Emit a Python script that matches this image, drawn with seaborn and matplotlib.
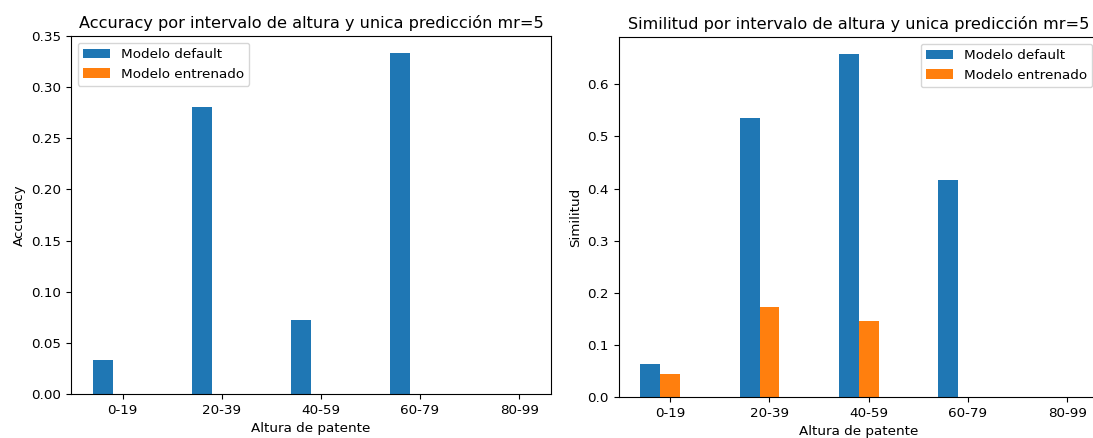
import numpy as np
import pandas as pd
import matplotlib
matplotlib.use("Agg")
import matplotlib.pyplot as plt
import seaborn as sns

intervalos = ['0-19', '20-39', '40-59', '60-79', '80-99']
modelos = ['Modelo default', 'Modelo entrenado']

accuracy_default = [0.033, 0.281, 0.072, 0.333, 0.0]
accuracy_entrenado = [0.0, 0.0, 0.0, 0.0, 0.0]

similitud_default = [0.063, 0.535, 0.658, 0.417, 0.0]
similitud_entrenado = [0.043, 0.172, 0.146, 0.0, 0.0]

colores = ['#1f77b4', '#ff7f0e']

# la imagen original esta un poco reducida
plt.rcParams['font.size'] = 9.7
plt.rcParams['axes.titlesize'] = 11.6


def armar_df(default, entrenado, nombre):
    df = pd.DataFrame({
        'Altura': intervalos * 2,
        'Modelo': [modelos[0]] * len(intervalos) + [modelos[1]] * len(intervalos),
        nombre: default + entrenado,
    })
    return df


def graficar(ax, df, nombre, titulo, loc):
    sns.barplot(data=df, x='Altura', y=nombre, hue='Modelo', hue_order=modelos,
                palette=colores, width=0.4, gap=0, saturation=1, ax=ax)
    # los grupos estan corridos respecto al tick como en el original
    ax.set_xticks(np.arange(len(intervalos)) + 0.1)
    ax.set_xticklabels(intervalos)
    ax.set_xlim(-0.42, len(intervalos) - 1 + 0.42)
    ax.set_ylim(0, max(df[nombre]) * 1.05)
    ax.set_title(titulo)
    ax.set_xlabel('Altura de patente')
    ax.set_ylabel(nombre)
    handles, labels = ax.get_legend_handles_labels()
    ax.legend(handles, labels, loc=loc)


fig = plt.figure(figsize=(10.93, 4.38), dpi=100)
ax1 = fig.add_axes([0.065, 0.1005, 0.439, 0.8175])
ax2 = fig.add_axes([0.566, 0.094, 0.4395, 0.8215])

df_acc = armar_df(accuracy_default, accuracy_entrenado, 'Accuracy')
df_sim = armar_df(similitud_default, similitud_entrenado, 'Similitud')

graficar(ax1, df_acc, 'Accuracy', 'Accuracy por intervalo de altura y unica predicción mr=5', 'upper left')
graficar(ax2, df_sim, 'Similitud', 'Similitud por intervalo de altura y unica predicción mr=5', 'upper right')
ax1.set_yticks(np.arange(0, 0.36, 0.05))

fig.savefig('out.png', dpi=100)
